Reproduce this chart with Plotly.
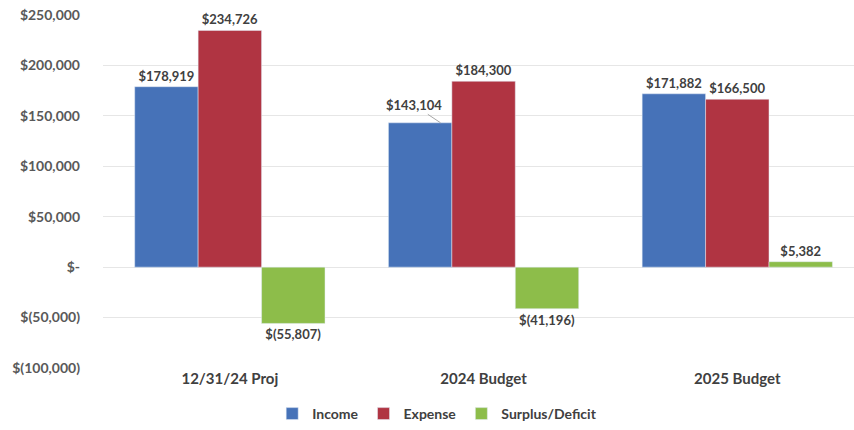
import plotly.graph_objects as go

categories = ["12/31/24 Proj", "2024 Budget", "2025 Budget"]
income = [178919, 143104, 171882]
expense = [234726, 184300, 166500]
surplus = [-55807, -41196, 5382]

tick_vals = [250000, 200000, 150000, 100000, 50000, 0, -50000, -100000]
tick_text = ["$250,000", "$200,000", "$150,000", "$100,000", "$50,000", "$-", "$(50,000)", "$(100,000)"]


def money(v):
    if v < 0:
        return "$({:,})".format(-v)
    return "${:,}".format(v)


FONT = "Lato"
LABEL_COLOR = "#404040"
label_font = dict(family=FONT, size=13, color=LABEL_COLOR, weight=700)

# income label for the middle category is drawn with a leader line
income_text = [money(v) for v in income]
income_text[1] = ""

fig = go.Figure()
fig.add_trace(go.Bar(name="Income", x=categories, y=income, marker_color="#4672B8",
                     text=income_text, textposition="outside", textfont=label_font,
                     cliponaxis=False))
fig.add_trace(go.Bar(name="Expense", x=categories, y=expense, marker_color="#B03442",
                     text=[money(v) for v in expense], textposition="outside", textfont=label_font,
                     cliponaxis=False))
fig.add_trace(go.Bar(name="Surplus/Deficit", x=categories, y=surplus, marker_color="#8DBD4A",
                     text=[money(v) for v in surplus], textposition="outside", textfont=label_font,
                     cliponaxis=False))

fig.add_annotation(x=categories[1], y=income[1], xref="x", yref="y",
                   xshift=-43, text=money(income[1]), showarrow=True,
                   arrowhead=0, arrowwidth=1, arrowcolor="#A6A6A6",
                   ax=-27, ay=-18, font=label_font)

fig.update_layout(
    width=854, height=430,
    margin=dict(l=103, r=0, t=15, b=62),
    paper_bgcolor="white", plot_bgcolor="white",
    barmode="group", bargap=0.25, bargroupgap=0,
    font=dict(family=FONT, color="#595959"),
    showlegend=True,
    legend=dict(orientation="h", x=0.445, xanchor="center", y=-0.085, yanchor="top",
                font=dict(family=FONT, size=14, color="#404040", weight=700),
                itemwidth=30, tracegroupgap=0),
    xaxis=dict(range=[-0.5, 2.46], showgrid=False, showline=False, ticks="",
               tickfont=dict(family=FONT, size=15, color="#404040", weight=700)),
    yaxis=dict(range=[-100000, 250000], tickvals=tick_vals, ticktext=tick_text,
               showgrid=True, gridcolor="#E6E6E6", gridwidth=1, zeroline=False,
               showline=False, ticks="", ticklabelstandoff=22,
               tickfont=dict(family=FONT, size=14, color="#595959", weight=700)),
)

fig.write_html("out.html")
